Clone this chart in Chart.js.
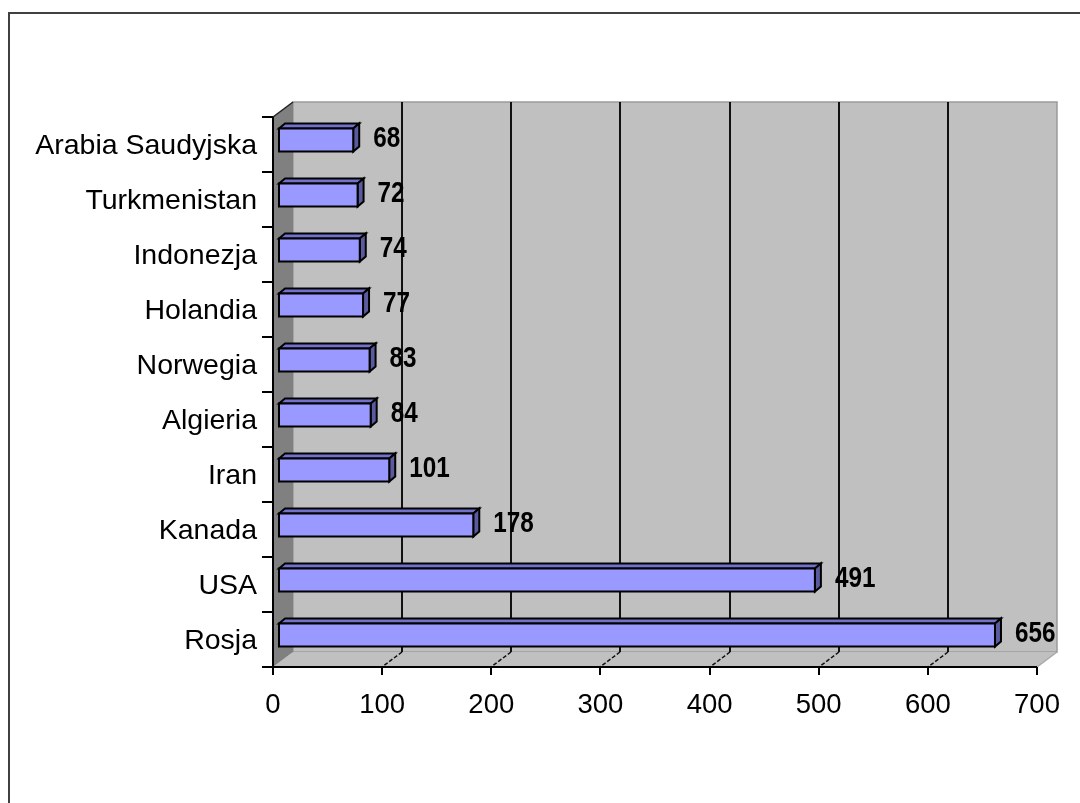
<!DOCTYPE html>
<html lang="pl">
<head>
    <meta charset="UTF-8">
    <title>Wydobycie gazu ziemnego</title>
    <script src="https://cdn.jsdelivr.net/npm/chart.js@4.4.1/dist/chart.umd.min.js"></script>
    <style>
        body { margin: 0; background: #fff; }
        canvas { display: block; }
    </style>
</head>
<body>
    <canvas id="bar-chart" width="1080" height="803"></canvas>

    <script>
        // data, bottom to top as in the original
        const categories = ['Rosja', 'USA', 'Kanada', 'Iran', 'Algieria', 'Norwegia', 'Holandia', 'Indonezja', 'Turkmenistan', 'Arabia Saudyjska'];
        const values = [656, 491, 178, 101, 84, 83, 77, 74, 72, 68];
        const xTicks = [0, 100, 200, 300, 400, 500, 600, 700];

        // 3D depth of the plot box and of the bars
        const DX = 20, DY = -15;
        const BAR_OFF_X = 6, BAR_OFF_Y = -4.5;
        const BAR_DX = 6, BAR_DY = -5;

        function poly(ctx, pts, fill, stroke, lw) {
            ctx.beginPath();
            ctx.moveTo(pts[0][0], pts[0][1]);
            for (let i = 1; i < pts.length; i++) ctx.lineTo(pts[i][0], pts[i][1]);
            ctx.closePath();
            if (fill) { ctx.fillStyle = fill; ctx.fill(); }
            if (stroke) { ctx.strokeStyle = stroke; ctx.lineWidth = lw || 1; ctx.stroke(); }
        }

        function text(ctx, str, x, y, font, align, sx) {
            ctx.save();
            ctx.translate(x, y);
            ctx.scale(sx || 1, 1);
            ctx.font = font;
            ctx.fillStyle = '#000';
            ctx.textAlign = align;
            ctx.textBaseline = 'alphabetic';
            ctx.fillText(str, 0, 0);
            ctx.restore();
        }

        const plot3d = {
            id: 'plot3d',
            // walls, floor and gridlines behind the bars
            beforeDatasetsDraw(chart) {
                const ctx = chart.ctx;
                const a = chart.chartArea;
                const xs = chart.scales.x;
                ctx.save();
                // back wall
                poly(ctx, [[a.left + DX, a.top + DY], [a.right + DX, a.top + DY], [a.right + DX, a.bottom + DY], [a.left + DX, a.bottom + DY]], '#c0c0c0', '#9a9a9a', 1.5);
                // floor
                poly(ctx, [[a.left, a.bottom], [a.left + DX, a.bottom + DY], [a.right + DX, a.bottom + DY], [a.right, a.bottom]], '#c0c0c0', null);
                ctx.beginPath();
                ctx.moveTo(a.right, a.bottom);
                ctx.lineTo(a.right + DX, a.bottom + DY);
                ctx.strokeStyle = '#a8a8a8';
                ctx.lineWidth = 1.5;
                ctx.stroke();
                // left wall
                poly(ctx, [[a.left, a.top], [a.left + DX, a.top + DY], [a.left + DX, a.bottom + DY], [a.left, a.bottom]], '#808080', null);
                ctx.beginPath();
                ctx.moveTo(a.left, a.top);
                ctx.lineTo(a.left + DX, a.top + DY);
                ctx.strokeStyle = '#222';
                ctx.lineWidth = 1.5;
                ctx.stroke();
                // gridlines on the back wall and down the floor
                xTicks.forEach(v => {
                    if (v === xTicks[0] || v === xTicks[xTicks.length - 1]) return;
                    const px = Math.round(xs.getPixelForValue(v));
                    ctx.beginPath();
                    ctx.moveTo(px + DX, a.top + DY);
                    ctx.lineTo(px + DX, a.bottom + DY);
                    ctx.strokeStyle = '#111';
                    ctx.lineWidth = 2;
                    ctx.setLineDash([]);
                    ctx.stroke();
                    ctx.beginPath();
                    ctx.moveTo(px + DX, a.bottom + DY);
                    ctx.lineTo(px, a.bottom);
                    ctx.lineWidth = 1.5;
                    ctx.setLineDash([4, 2]);
                    ctx.stroke();
                    ctx.setLineDash([]);
                });
                ctx.restore();
                return false;
            },
            afterDraw(chart) {
                const ctx = chart.ctx;
                const a = chart.chartArea;
                const xs = chart.scales.x;
                const ys = chart.scales.y;
                const meta = chart.getDatasetMeta(0);
                ctx.save();

                // 3D bars from the library's bar elements
                meta.data.forEach((el, i) => {
                    const h = el.height;
                    const x0 = el.base + BAR_OFF_X, x1 = el.x + BAR_OFF_X;
                    const y0 = el.y + BAR_OFF_Y - h / 2, y1 = y0 + h;
                    poly(ctx, [[x0, y0], [x0 + BAR_DX, y0 + BAR_DY], [x1 + BAR_DX, y0 + BAR_DY], [x1, y0]], '#7272cc', '#000', 2);
                    poly(ctx, [[x1, y0], [x1 + BAR_DX, y0 + BAR_DY], [x1 + BAR_DX, y1 + BAR_DY], [x1, y1]], '#5a5a9e', '#000', 2);
                    poly(ctx, [[x0, y0], [x1, y0], [x1, y1], [x0, y1]], '#9999ff', '#000', 2);
                    // value label
                    text(ctx, String(values[i]), el.x + 26, el.y - 8 + 10.8, 'bold 30px "Liberation Sans", Arial, sans-serif', 'left', 0.81);
                });

                // front axes
                ctx.strokeStyle = '#000';
                ctx.lineWidth = 2;
                ctx.beginPath();
                ctx.moveTo(a.left, a.top);
                ctx.lineTo(a.left, a.bottom);
                ctx.lineTo(a.right, a.bottom);
                ctx.stroke();

                // category ticks and labels
                const band = (a.bottom - a.top) / categories.length;
                ctx.beginPath();
                for (let i = 0; i <= categories.length; i++) {
                    const py = Math.round(a.top + i * band);
                    ctx.moveTo(a.left - 11, py);
                    ctx.lineTo(a.left, py);
                }
                ctx.stroke();
                categories.forEach((c, i) => {
                    const py = ys.getPixelForValue(i);
                    text(ctx, c, a.left - 16, py + 9, '28.5px "Liberation Sans", Arial, sans-serif', 'right', 1);
                });

                // value ticks and labels
                ctx.beginPath();
                xTicks.forEach(v => {
                    const px = Math.round(xs.getPixelForValue(v));
                    ctx.moveTo(px, a.bottom);
                    ctx.lineTo(px, a.bottom + 8);
                });
                ctx.stroke();
                xTicks.forEach(v => {
                    const px = xs.getPixelForValue(v);
                    text(ctx, String(v), px, a.bottom + 46, '27.5px "Liberation Sans", Arial, sans-serif', 'center', 1);
                });

                // chart frame
                ctx.strokeStyle = '#404040';
                ctx.lineWidth = 2;
                ctx.strokeRect(9, 13, 1100, 900);
                ctx.restore();
            }
        };

        const canvas = document.getElementById('bar-chart');
        new Chart(canvas, {
            type: 'bar',
            data: {
                labels: categories,
                datasets: [{
                    data: values,
                    backgroundColor: '#9999ff',
                    borderColor: '#000',
                    borderWidth: 1,
                    barPercentage: 0.42,
                    categoryPercentage: 1
                }]
            },
            options: {
                indexAxis: 'y',
                responsive: false,
                animation: false,
                layout: {
                    padding: { left: 273, right: 43, top: 117, bottom: 136 }
                },
                plugins: {
                    legend: { display: false },
                    tooltip: { enabled: false }
                },
                scales: {
                    x: { min: 0, max: 700, display: false },
                    y: { reverse: true, display: false }
                }
            },
            plugins: [plot3d]
        });
    </script>
</body>
</html>
